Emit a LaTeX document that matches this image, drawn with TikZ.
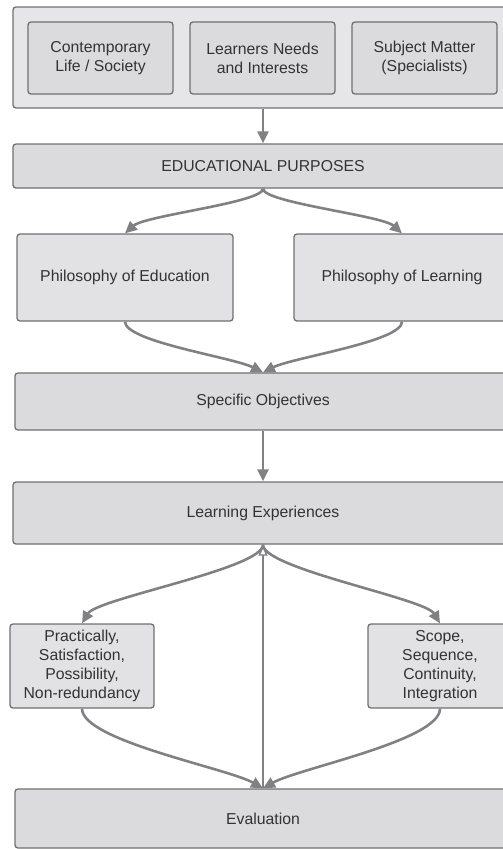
\documentclass[tikz,border=0pt]{standalone}
\usepackage{fontspec}
\setmainfont{Liberation Sans}
\usetikzlibrary{arrows.meta}
\definecolor{boxfill}{HTML}{DBDBDD}
\definecolor{outerfill}{HTML}{E6E6E8}
\definecolor{lightfill}{HTML}{E2E2E4}
\definecolor{boxline}{HTML}{707072}
\definecolor{arrowcol}{HTML}{818184}
\definecolor{textcol}{HTML}{333333}
\begin{document}
\begin{tikzpicture}[x=1pt, y=-1pt, font=\fontsize{15.8}{19}\selectfont,
    >={Triangle[length=12pt,width=11pt]},
    box/.style={draw=boxline, fill=boxfill, line width=1.3pt, rounded corners=3pt,
      text=textcol, inner sep=0pt, align=center},
    flow/.style={->, draw=arrowcol, line width=2.6pt}]
	\clip (0,0) rectangle (503,849);
	% sources of the purposes
	\node[box, fill=outerfill, minimum width=500pt, minimum height=101pt] (sources) at (263,57.5) {};
	\node[box, minimum width=145pt, minimum height=72pt] (society) at (100.5,58) {Contemporary\\Life / Society};
	\node[box, minimum width=145pt, minimum height=72pt] (learners) at (262.5,58) {Learners Needs\\and Interests};
	\node[box, minimum width=145pt, minimum height=72pt] (subject) at (424.5,58) {Subject Matter\\(Specialists)};
	
	\node[box, minimum width=500pt, minimum height=44pt] (purposes) at (263,166) {EDUCATIONAL PURPOSES};
	\node[box, fill=lightfill, minimum width=216pt, minimum height=87pt] (phileducation) at (125,277.5) {Philosophy of Education};
	\node[box, fill=lightfill, minimum width=216pt, minimum height=87pt] (phillearning) at (402,277.5) {Philosophy of Learning};
	\node[box, minimum width=496pt, minimum height=57pt] (objectives) at (263,401.5) {Specific Objectives};
	\node[box, minimum width=500pt, minimum height=62pt] (experiences) at (263,513) {Learning Experiences};
	\node[box, fill=lightfill, minimum width=144pt, minimum height=84pt] (criteria) at (82,666) {Practically,\\Satisfaction,\\Possibility,\\Non-redundancy};
	\node[box, fill=lightfill, minimum width=144pt, minimum height=84pt] (organisation) at (440,666) {Scope,\\Sequence,\\Continuity,\\Integration};
	\node[box, minimum width=496pt, minimum height=59pt] (evaluation) at (263,818.5) {Evaluation};
	
	\draw[flow] (sources) -- (purposes);
	\draw[flow] (purposes.south) .. controls +(0,14) and +(20,-18) .. (phileducation.north);
	\draw[flow] (purposes.south) .. controls +(0,14) and +(-20,-18) .. (phillearning.north);
	\draw[flow] (phileducation.south) .. controls +(0,20) and +(-30,-15) .. (objectives.north);
	\draw[flow] (phillearning.south) .. controls +(0,20) and +(30,-15) .. (objectives.north);
	\draw[flow] (objectives) -- (experiences);
	\draw[flow] (experiences.south) .. controls +(0,24) and +(15,-25) .. (criteria.north);
	\draw[flow] (experiences.south) .. controls +(0,24) and +(-15,-25) .. (organisation.north);
	\draw[flow] (criteria.south) .. controls +(0,32) and +(-35,-20) .. (evaluation.north);
	\draw[flow] (organisation.south) .. controls +(0,32) and +(35,-20) .. (evaluation.north);
	\draw[draw=arrowcol, line width=2.6pt, -{Triangle[open,length=11pt,width=9pt,line width=1.4pt]}] (evaluation.north) -- (experiences.south);
\end{tikzpicture}
\end{document}
